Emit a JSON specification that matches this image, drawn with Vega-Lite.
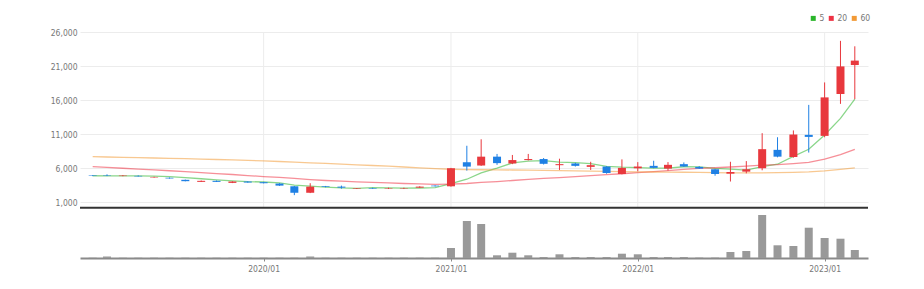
{
  "$schema": "https://vega.github.io/schema/vega-lite/v6.json",
  "width": 788,
  "height": 226,
  "autosize": {"type": "none"},
  "padding": {"left": 80, "top": 32, "right": 56, "bottom": 31},
  "background": "white",
  "config": {
    "view": {"stroke": null},
    "font": "Liberation Sans Narrow, Arial Narrow, DejaVu Sans Condensed, sans-serif"
  },
  "data": {
    "values": [
      {"d": "2019-02-01", "o": 4950, "h": 4980, "l": 4850, "c": 4880, "v": 30000, "ma5": 4900, "ma20": 6240, "ma60": 7700},
      {"d": "2019-03-01", "o": 4930, "h": 5100, "l": 4850, "c": 4870, "v": 150000, "ma5": 4890, "ma20": 6120, "ma60": 7650},
      {"d": "2019-04-01", "o": 4850, "h": 5000, "l": 4830, "c": 4920, "v": 30000, "ma5": 4890, "ma20": 6000, "ma60": 7600},
      {"d": "2019-05-01", "o": 4880, "h": 4950, "l": 4780, "c": 4800, "v": 30000, "ma5": 4870, "ma20": 5880, "ma60": 7550},
      {"d": "2019-06-01", "o": 4650, "h": 4760, "l": 4620, "c": 4720, "v": 30000, "ma5": 4838, "ma20": 5760, "ma60": 7500},
      {"d": "2019-07-01", "o": 4600, "h": 4640, "l": 4480, "c": 4500, "v": 30000, "ma5": 4762, "ma20": 5630, "ma60": 7450},
      {"d": "2019-08-01", "o": 4300, "h": 4330, "l": 4080, "c": 4100, "v": 30000, "ma5": 4608, "ma20": 5500, "ma60": 7400},
      {"d": "2019-09-01", "o": 4000, "h": 4200, "l": 3980, "c": 4150, "v": 30000, "ma5": 4454, "ma20": 5360, "ma60": 7350},
      {"d": "2019-10-01", "o": 4150, "h": 4200, "l": 3980, "c": 4000, "v": 30000, "ma5": 4294, "ma20": 5220, "ma60": 7280},
      {"d": "2019-11-01", "o": 3850, "h": 4080, "l": 3820, "c": 4050, "v": 30000, "ma5": 4160, "ma20": 5080, "ma60": 7220},
      {"d": "2019-12-01", "o": 4050, "h": 4080, "l": 3880, "c": 3900, "v": 30000, "ma5": 4040, "ma20": 4930, "ma60": 7150},
      {"d": "2020-01-01", "o": 3950, "h": 4000, "l": 3780, "c": 3800, "v": 30000, "ma5": 3980, "ma20": 4780, "ma60": 7070},
      {"d": "2020-02-01", "o": 3750, "h": 3800, "l": 3420, "c": 3450, "v": 30000, "ma5": 3840, "ma20": 4650, "ma60": 6990},
      {"d": "2020-03-01", "o": 3350, "h": 3400, "l": 2050, "c": 2400, "v": 30000, "ma5": 3520, "ma20": 4500, "ma60": 6900},
      {"d": "2020-04-01", "o": 2400, "h": 3800, "l": 2350, "c": 3300, "v": 150000, "ma5": 3370, "ma20": 4330, "ma60": 6800},
      {"d": "2020-05-01", "o": 3350, "h": 3400, "l": 3200, "c": 3250, "v": 30000, "ma5": 3240, "ma20": 4200, "ma60": 6700},
      {"d": "2020-06-01", "o": 3300, "h": 3450, "l": 3000, "c": 3150, "v": 30000, "ma5": 3110, "ma20": 4100, "ma60": 6600},
      {"d": "2020-07-01", "o": 3000, "h": 3100, "l": 2950, "c": 3080, "v": 30000, "ma5": 3036, "ma20": 4000, "ma60": 6500},
      {"d": "2020-08-01", "o": 3100, "h": 3150, "l": 2980, "c": 3020, "v": 30000, "ma5": 3160, "ma20": 3930, "ma60": 6400},
      {"d": "2020-09-01", "o": 2980, "h": 3150, "l": 2950, "c": 3050, "v": 30000, "ma5": 3110, "ma20": 3850, "ma60": 6300},
      {"d": "2020-10-01", "o": 2980, "h": 3150, "l": 2950, "c": 3040, "v": 30000, "ma5": 3068, "ma20": 3760, "ma60": 6180},
      {"d": "2020-11-01", "o": 3150, "h": 3350, "l": 3120, "c": 3300, "v": 30000, "ma5": 3098, "ma20": 3700, "ma60": 6060},
      {"d": "2020-12-01", "o": 3450, "h": 3500, "l": 3320, "c": 3350, "v": 30000, "ma5": 3152, "ma20": 3640, "ma60": 5950},
      {"d": "2021-01-01", "o": 3350, "h": 6050, "l": 3300, "c": 6000, "v": 1000000, "ma5": 3748, "ma20": 3680, "ma60": 5850},
      {"d": "2021-02-01", "o": 6880, "h": 9300, "l": 5650, "c": 6240, "v": 3700000, "ma5": 4386, "ma20": 3757, "ma60": 5800},
      {"d": "2021-03-01", "o": 6400, "h": 10250, "l": 6350, "c": 7700, "v": 3400000, "ma5": 5318, "ma20": 3917, "ma60": 5780},
      {"d": "2021-04-01", "o": 7700, "h": 8100, "l": 6500, "c": 6750, "v": 270000, "ma5": 6008, "ma20": 4049, "ma60": 5760},
      {"d": "2021-05-01", "o": 6700, "h": 7950, "l": 6600, "c": 7200, "v": 530000, "ma5": 6778, "ma20": 4202, "ma60": 5740},
      {"d": "2021-06-01", "o": 7200, "h": 8100, "l": 7150, "c": 7350, "v": 270000, "ma5": 7048, "ma20": 4369, "ma60": 5720},
      {"d": "2021-07-01", "o": 7350, "h": 7500, "l": 6550, "c": 6650, "v": 100000, "ma5": 7130, "ma20": 4499, "ma60": 5690},
      {"d": "2021-08-01", "o": 6450, "h": 7400, "l": 5750, "c": 6600, "v": 370000, "ma5": 6910, "ma20": 4634, "ma60": 5660},
      {"d": "2021-09-01", "o": 6700, "h": 6800, "l": 6250, "c": 6350, "v": 100000, "ma5": 6830, "ma20": 4762, "ma60": 5620},
      {"d": "2021-10-01", "o": 6200, "h": 6950, "l": 5750, "c": 6450, "v": 100000, "ma5": 6680, "ma20": 4912, "ma60": 5580},
      {"d": "2021-11-01", "o": 6250, "h": 6300, "l": 5200, "c": 5300, "v": 100000, "ma5": 6270, "ma20": 5057, "ma60": 5540},
      {"d": "2021-12-01", "o": 5150, "h": 7300, "l": 5100, "c": 6050, "v": 430000, "ma5": 6150, "ma20": 5194, "ma60": 5500},
      {"d": "2022-01-01", "o": 6000, "h": 6900, "l": 5550, "c": 6250, "v": 370000, "ma5": 6080, "ma20": 5344, "ma60": 5480},
      {"d": "2022-02-01", "o": 6350, "h": 7100, "l": 6000, "c": 6050, "v": 100000, "ma5": 6020, "ma20": 5489, "ma60": 5450},
      {"d": "2022-03-01", "o": 5950, "h": 6900, "l": 5650, "c": 6500, "v": 100000, "ma5": 6030, "ma20": 5660, "ma60": 5430},
      {"d": "2022-04-01", "o": 6600, "h": 6850, "l": 6200, "c": 6250, "v": 100000, "ma5": 6220, "ma20": 5822, "ma60": 5410},
      {"d": "2022-05-01", "o": 6200, "h": 6300, "l": 5900, "c": 5950, "v": 40000, "ma5": 6200, "ma20": 5967, "ma60": 5390},
      {"d": "2022-06-01", "o": 5850, "h": 5900, "l": 4900, "c": 5150, "v": 40000, "ma5": 5980, "ma20": 6072, "ma60": 5360},
      {"d": "2022-07-01", "o": 5200, "h": 6950, "l": 4050, "c": 5450, "v": 600000, "ma5": 5860, "ma20": 6180, "ma60": 5330},
      {"d": "2022-08-01", "o": 5500, "h": 7050, "l": 5250, "c": 5850, "v": 700000, "ma5": 5730, "ma20": 6305, "ma60": 5320},
      {"d": "2022-09-01", "o": 6000, "h": 11150, "l": 5700, "c": 8800, "v": 4300000, "ma5": 6240, "ma20": 6445, "ma60": 5330},
      {"d": "2022-10-01", "o": 8700, "h": 10550, "l": 7600, "c": 7700, "v": 1270000, "ma5": 6590, "ma20": 6518, "ma60": 5350},
      {"d": "2022-11-01", "o": 7650, "h": 11550, "l": 7550, "c": 10950, "v": 1200000, "ma5": 7750, "ma20": 6680, "ma60": 5400},
      {"d": "2022-12-01", "o": 10900, "h": 15300, "l": 8300, "c": 10600, "v": 3030000, "ma5": 8780, "ma20": 6873, "ma60": 5480},
      {"d": "2023-01-01", "o": 10750, "h": 18600, "l": 10550, "c": 16400, "v": 2000000, "ma5": 10890, "ma20": 7333, "ma60": 5620},
      {"d": "2023-02-01", "o": 16900, "h": 24700, "l": 15450, "c": 20950, "v": 1930000, "ma5": 13320, "ma20": 8013, "ma60": 5830},
      {"d": "2023-03-01", "o": 21150, "h": 23900, "l": 16150, "c": 21800, "v": 800000, "ma5": 16140, "ma20": 8770, "ma60": 6050}
    ]
  },
  "layer": [
    {
      "layer": [
        {
          "data": {"values": [{"g": "2020-01-01"}, {"g": "2021-01-01"}, {"g": "2022-01-01"}, {"g": "2023-01-01"}]},
          "mark": {"type": "rule", "color": "#ececec", "strokeWidth": 1},
          "encoding": {
            "x": {"field": "g", "type": "temporal", "title": null,
                  "scale": {"type": "utc", "domain": [{"year": 2019, "month": 1, "date": 17, "utc": true}, {"year": 2023, "month": 3, "date": 17, "utc": true}]}},
            "y": {"datum": 26000, "type": "quantitative", "scale": {"domain": [200, 26000], "range": [175.75, 0]},
                  "axis": {"values": [1000, 6000, 11000, 16000, 21000, 26000], "format": ",d", "grid": true, "gridColor": "#ececec", "domain": false, "ticks": false, "labelPadding": 3, "labelFontSize": 8.5, "labelColor": "#777777", "title": null}},
            "y2": {"datum": 200}
          }
        },
        {
          "data": {"values": [{"k": 1}]},
          "mark": {"type": "rule", "color": "#333333", "strokeWidth": 2},
          "encoding": {
            "y": {"datum": 200, "type": "quantitative", "scale": {"domain": [200, 26000], "range": [175.75, 0]}}
          }
        },
        {
          "transform": [{"fold": ["ma5", "ma20", "ma60"], "as": ["key", "val"]}],
          "mark": {"type": "line", "strokeWidth": 1.3, "strokeOpacity": 0.55},
          "encoding": {
            "x": {"field": "d", "type": "temporal", "title": null,
                  "scale": {"type": "utc", "domain": [{"year": 2019, "month": 1, "date": 17, "utc": true}, {"year": 2023, "month": 3, "date": 17, "utc": true}]}},
            "y": {"field": "val", "type": "quantitative", "scale": {"domain": [200, 26000], "range": [175.75, 0]}},
            "color": {"field": "key", "type": "nominal",
                      "scale": {"domain": ["ma5", "ma20", "ma60"], "range": ["#2ab52a", "#ee3344", "#f29a36"]},
                      "legend": {"orient": "none", "legendX": 729, "legendY": -18, "direction": "horizontal", "title": null,
                                 "symbolType": "square", "symbolSize": 25, "symbolStrokeWidth": 0, "labelFontSize": 8.5, "labelColor": "#777777",
                                 "columnPadding": 2, "labelOffset": 2,
                                 "labelExpr": "replace(datum.label, 'ma', '')",
                                 "encode": {"symbols": {"update": {"fill": {"scale": "color", "field": "value"}, "opacity": {"value": 1}, "fillOpacity": {"value": 1}}}}}}
          }
        },
        {
          "mark": {"type": "rule", "strokeWidth": 1},
          "encoding": {
            "x": {"field": "d", "type": "temporal", "title": null,
                  "scale": {"type": "utc", "domain": [{"year": 2019, "month": 1, "date": 17, "utc": true}, {"year": 2023, "month": 3, "date": 17, "utc": true}]}},
            "y": {"field": "l", "type": "quantitative", "scale": {"domain": [200, 26000], "range": [175.75, 0]}},
            "y2": {"field": "h"},
            "color": {"condition": {"test": "datum.c >= datum.o", "value": "#e8383d"}, "value": "#1f80e4"}
          }
        },
        {
          "mark": {"type": "bar", "size": 8},
          "encoding": {
            "x": {"field": "d", "type": "temporal", "title": null,
                  "scale": {"type": "utc", "domain": [{"year": 2019, "month": 1, "date": 17, "utc": true}, {"year": 2023, "month": 3, "date": 17, "utc": true}]}},
            "y": {"field": "o", "type": "quantitative", "scale": {"domain": [200, 26000], "range": [175.75, 0]}},
            "y2": {"field": "c"},
            "color": {"condition": {"test": "datum.c >= datum.o", "value": "#e8383d"}, "value": "#1f80e4"}
          }
        }
      ]
    },
    {
      "mark": {"type": "bar", "size": 8, "color": "#999999"},
      "encoding": {
        "x": {"field": "d", "type": "temporal", "title": null,
              "scale": {"type": "utc", "domain": [{"year": 2019, "month": 1, "date": 17, "utc": true}, {"year": 2023, "month": 3, "date": 17, "utc": true}]},
              "axis": {"values": [{"year": 2020, "month": 1, "date": 1, "utc": true}, {"year": 2021, "month": 1, "date": 1, "utc": true}, {"year": 2022, "month": 1, "date": 1, "utc": true}, {"year": 2023, "month": 1, "date": 1, "utc": true}],
                       "format": "%Y/%m", "grid": false, "title": null, "domainColor": "#8a8a8a", "domainWidth": 2,
                       "tickColor": "#8a8a8a", "tickSize": 3, "labelPadding": 3, "labelFontSize": 8.5, "labelColor": "#777777", "labelFlush": false}},
        "y": {"field": "v", "type": "quantitative", "scale": {"domain": [0, 4800000], "range": [226, 178]}, "axis": null}
      }
    }
  ],
  "resolve": {"scale": {"y": "independent"}}
}
